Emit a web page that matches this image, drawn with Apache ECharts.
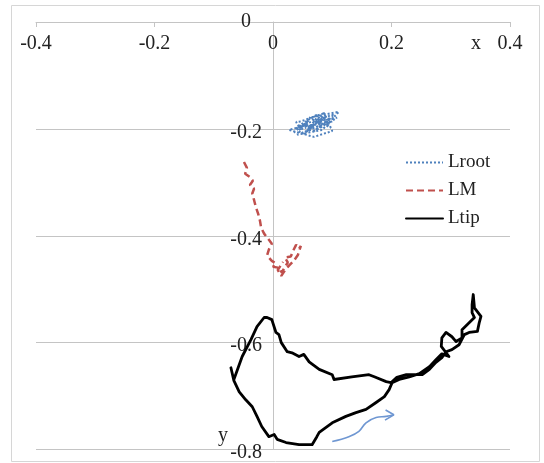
<!DOCTYPE html>
<html>
<head>
<meta charset="utf-8">
<script src="https://cdn.jsdelivr.net/npm/echarts@6/dist/echarts.min.js"></script>
<style>
  html, body { margin: 0; padding: 0; background: #fff; }
  #chart { width: 544px; height: 463px; }
</style>
</head>
<body>
<div id="chart"></div>
<script>
// Tip, mid-point and root trajectories in the x-y plane
const xTicks = [-0.4, -0.2, 0, 0.2, 0.4];
const yTicks = [-0.8, -0.6, -0.4, -0.2, 0];

const lroot = [
  [0.035, -0.207], [0.052, -0.191], [0.044, -0.202], [0.061, -0.183], [0.049, -0.196],
  [0.069, -0.193], [0.057, -0.204], [0.074, -0.179], [0.064, -0.194], [0.081, -0.187],
  [0.054, -0.198], [0.078, -0.200], [0.090, -0.176], [0.071, -0.189], [0.095, -0.183],
  [0.066, -0.206], [0.086, -0.194], [0.103, -0.172], [0.078, -0.183], [0.108, -0.179],
  [0.091, -0.191], [0.044, -0.194], [0.073, -0.174], [0.098, -0.198], [0.061, -0.179],
  [0.111, -0.168], [0.083, -0.202], [0.041, -0.211], [0.058, -0.188], [0.039, -0.199],
  [0.068, -0.185], [0.085, -0.180], [0.050, -0.209], [0.076, -0.195], [0.100, -0.186],
  [0.063, -0.200], [0.088, -0.170], [0.047, -0.186], [0.039, -0.187], [0.052, -0.211],
  [0.086, -0.170], [0.100, -0.204], [0.069, -0.215], [0.027, -0.202], [0.060, -0.192]
];

const lm = [
  [-0.049, -0.262], [-0.044, -0.273], [-0.047, -0.284], [-0.039, -0.290], [-0.034, -0.297],
  [-0.039, -0.305], [-0.032, -0.312], [-0.035, -0.321], [-0.032, -0.333], [-0.029, -0.346],
  [-0.025, -0.359], [-0.022, -0.372], [-0.020, -0.385], [-0.015, -0.396], [-0.008, -0.406],
  [-0.002, -0.415], [-0.007, -0.426], [-0.010, -0.437], [-0.002, -0.447], [0.005, -0.452],
  [0.000, -0.458], [0.010, -0.460], [0.015, -0.469], [0.019, -0.460], [0.025, -0.450],
  [0.020, -0.441], [0.030, -0.439], [0.034, -0.428], [0.039, -0.417], [0.044, -0.424],
  [0.047, -0.419], [0.042, -0.436], [0.035, -0.447], [0.027, -0.456], [0.020, -0.465],
  [0.014, -0.475], [0.008, -0.464], [0.017, -0.449]
];

const ltip = [
  [-0.071, -0.647], [-0.066, -0.671], [-0.057, -0.692], [-0.046, -0.707], [-0.035, -0.720],
  [-0.027, -0.738], [-0.019, -0.757], [-0.007, -0.776], [0.002, -0.772], [0.007, -0.781],
  [0.022, -0.787], [0.044, -0.791], [0.066, -0.791], [0.074, -0.776], [0.078, -0.768],
  [0.100, -0.750], [0.123, -0.738], [0.140, -0.731], [0.157, -0.725], [0.174, -0.712],
  [0.188, -0.701], [0.196, -0.688], [0.201, -0.675], [0.213, -0.669], [0.230, -0.664],
  [0.247, -0.658], [0.264, -0.645], [0.275, -0.632], [0.285, -0.621], [0.297, -0.626],
  [0.284, -0.607], [0.285, -0.591], [0.292, -0.581], [0.302, -0.589], [0.309, -0.598],
  [0.319, -0.591], [0.319, -0.576], [0.331, -0.563], [0.340, -0.553], [0.336, -0.544],
  [0.336, -0.529], [0.338, -0.510], [0.340, -0.535], [0.351, -0.551], [0.348, -0.563],
  [0.345, -0.579], [0.331, -0.581], [0.323, -0.585], [0.314, -0.604], [0.302, -0.613],
  [0.292, -0.617], [0.285, -0.628], [0.275, -0.637], [0.264, -0.650], [0.252, -0.660],
  [0.225, -0.660], [0.209, -0.665], [0.199, -0.675], [0.191, -0.673], [0.171, -0.664],
  [0.162, -0.660], [0.133, -0.664], [0.103, -0.669], [0.100, -0.660], [0.078, -0.650],
  [0.061, -0.636], [0.052, -0.622], [0.044, -0.626], [0.032, -0.619], [0.024, -0.617],
  [0.014, -0.600], [0.010, -0.585], [0.005, -0.581], [-0.002, -0.557], [-0.010, -0.553],
  [-0.015, -0.553], [-0.027, -0.570], [-0.037, -0.594], [-0.052, -0.626], [-0.066, -0.669]
];

// direction-of-motion arrow under the tip path
const arrowShaft = [
  [0.100, -0.785], [0.128, -0.776], [0.145, -0.766], [0.157, -0.750],
  [0.174, -0.740], [0.191, -0.738], [0.204, -0.735]
];
const arrowHead = [[0.190, -0.726], [0.204, -0.735], [0.189, -0.745]];

const serif = '"Liberation Serif", "DejaVu Serif", serif';
const gridColor = '#c4c4c4';
const textColor = '#222';
const gridLeft = 36, gridRight = 34, chartWidth = 544;
// shift the y axis so it sits on x = 0 (centre of the symmetric x range)
const yAxisShift = -(chartWidth - gridLeft - gridRight) / 2;

const isTick = (list, v) => list.some(t => Math.abs(t - v) < 1e-9);
const tickText = v => String(Math.round(v * 10) / 10);

const chart = echarts.init(document.getElementById('chart'));
chart.setOption({
  animation: false,
  backgroundColor: '#fff',
  grid: { left: gridLeft, right: gridRight, top: 22, bottom: 13 },
  graphic: [
    { type: 'rect', shape: { x: 11.5, y: 5.5, width: 528, height: 456 },
      style: { fill: 'none', stroke: '#d6d6d6', lineWidth: 1 }, z: -1 },
    { type: 'text', left: 471, top: 34,
      style: { text: 'x', font: '20px ' + serif, fill: textColor } },
    { type: 'text', left: 218, top: 426,
      style: { text: 'y', font: '20px ' + serif, fill: textColor } }
  ],
  legend: {
    data: ['Lroot', 'LM', 'Ltip'],
    orient: 'vertical',
    left: 400,
    top: 148,
    itemWidth: 37,
    itemHeight: 12,
    itemGap: 9,
    itemStyle: { opacity: 0 },
    textStyle: { fontFamily: serif, fontSize: 19, color: textColor }
  },
  xAxis: {
    type: 'value',
    position: 'top',
    min: -0.4, max: 0.4, interval: 0.2,
    axisLine: { show: true, onZero: false, lineStyle: { color: gridColor, width: 1 } },
    axisTick: { show: true, inside: true, length: 5, lineStyle: { color: gridColor } },
    splitLine: { show: false },
    axisLabel: {
      inside: true, margin: 12,
      fontFamily: serif, fontSize: 20, color: textColor,
      formatter: v => (isTick(xTicks, v) ? tickText(v) : '')
    }
  },
  yAxis: {
    type: 'value',
    min: -0.8, max: 0, interval: 0.2,
    offset: yAxisShift,
    axisLine: { show: true, onZero: false, lineStyle: { color: gridColor, width: 1 } },
    axisTick: { show: false },
    splitLine: { show: true, lineStyle: { color: gridColor, width: 1 } },
    axisLabel: {
      margin: 11,
      fontFamily: serif, fontSize: 20, color: textColor,
      formatter: v => {
        if (!isTick(yTicks, v)) return '';
        return v === 0 ? '{z|0}' : '{n|' + tickText(v) + '}';
      },
      rich: {
        z: { fontFamily: serif, fontSize: 20, color: textColor, padding: [0, 11, 0, 0] },
        n: { fontFamily: serif, fontSize: 20, color: textColor, padding: [7, 0, 0, 0] }
      }
    }
  },
  series: [
    {
      name: 'Lroot', type: 'line', data: lroot, symbol: 'none',
      lineStyle: { color: '#4f81bd', width: 2, type: 'dotted' },
      itemStyle: { color: '#4f81bd' }, z: 3
    },
    {
      name: 'LM', type: 'line', data: lm, symbol: 'none',
      lineStyle: { color: '#c0504d', width: 2.5, type: [7, 4] },
      itemStyle: { color: '#c0504d' }, z: 3
    },
    {
      name: 'Ltip', type: 'line', data: ltip, symbol: 'none',
      lineStyle: { color: '#000', width: 2.8, join: 'round', cap: 'round' },
      itemStyle: { color: '#000' }, z: 4
    },
    {
      name: 'direction', type: 'line', data: arrowShaft, symbol: 'none', smooth: 0.4,
      lineStyle: { color: '#6f97d2', width: 1.6 }, z: 2, silent: true
    },
    {
      name: 'direction-head', type: 'line', data: arrowHead, symbol: 'none',
      lineStyle: { color: '#6f97d2', width: 1.6 }, z: 2, silent: true
    }
  ]
});
</script>
</body>
</html>
